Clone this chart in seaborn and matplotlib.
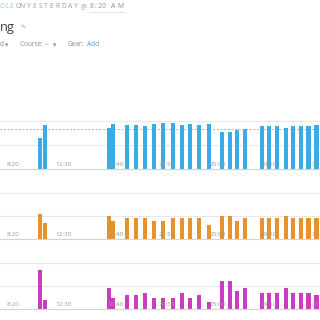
import numpy as np
import pandas as pd
import matplotlib
matplotlib.use("Agg")
import matplotlib.pyplot as plt
from matplotlib.lines import Line2D
import seaborn as sns

# ---------------- data ----------------
lap_time = [633, 655, 968, 990, 1057, 1101, 1144, 1188, 1232, 1280, 1324, 1367, 1411,
            1459, 1522, 1561, 1595, 1634, 1716, 1752, 1789, 1832, 1866, 1905, 1944, 1983]
speed = [12.8, 18.2, 17.2, 18.8, 18.3, 18.3, 17.9, 18.8, 19.0, 19.1, 18.2, 18.9, 18.5,
         18.6, 15.6, 15.4, 16.3, 16.5, 17.8, 18.1, 17.9, 17.2, 17.9, 17.9, 17.9, 18.2]
speed_avg = 16.7
strokes = [11, 7, 10, 8, 9, 9, 9, 8, 8, 9, 9, 9, 9,
           6, 10, 10, 8, 9, 9, 9, 9, 10, 9, 9, 9, 9]
swolf = [17, 4, 9, 5, 6, 6, 7, 5, 5, 5, 7, 5, 6,
         3, 12, 12, 8, 9, 7, 7, 7, 9, 7, 7, 7, 6]
tick_seconds = [500, 750, 1000, 1250, 1500, 1750, 2000]
tick_labels = ["8:20", "12:30", "16:40", "20:50", "25:00", "29:10", "33:20"]

df = pd.DataFrame({"t": lap_time, "speed": speed, "strokes": strokes, "swolf": swolf})

# ---------------- style ----------------
sns.set_theme(style="white")
plt.rcParams["font.family"] = ["Open Sans", "DejaVu Sans"]

W = H = 320
fig = plt.figure(figsize=(3.2, 3.2), dpi=100)
fig.patch.set_facecolor("white")

XLIM = (437, 1987)
BAR_W_S = 20.0


def px_axes(top, bottom):
    return fig.add_axes([0, (H - bottom) / H, 1, (bottom - top) / H])


panels = [
    ("speed", "#3aabe3", 115, 169.0, 2.4),
    ("strokes", "#e8922c", 185, 239.3, 2.33),
    ("swolf", "#c93dbf", 255, 309.3, 2.33),
]

min_gap = np.min(np.diff(np.unique(lap_time)))
for col, color, top, bottom, ppu in panels:
    ax = px_axes(top, bottom)
    hpx = bottom - top
    for g in (10, 20):
        ax.axhline(g, color="#e8e8e8", linewidth=0.8, zorder=0.2)
    if col == "speed":
        ax.axhline(speed_avg, color="#a0a0a0", linewidth=0.6,
                   linestyle=(0, (2.2, 2.2)), zorder=0.3)
    sns.barplot(data=df, x="t", y=col, native_scale=True, color=color,
                saturation=1, errorbar=None, width=BAR_W_S / min_gap,
                linewidth=0, ax=ax, zorder=1)
    ax.grid(False)
    ax.set_xlim(*XLIM)
    ax.set_ylim(0, hpx / ppu)
    ax.set_yticks([])
    ax.set_xticks(tick_seconds)
    ax.tick_params(axis="x", length=0, labelbottom=False)
    ax.tick_params(axis="y", left=False, labelleft=False)
    for xs, lab in zip(tick_seconds, tick_labels):
        ax.text(xs, 4.6 / hpx, lab, transform=ax.get_xaxis_transform(),
                ha="center", va="center", fontsize=4.6, color="#9a9a9a",
                zorder=5, clip_on=False)
    for s in ["left", "right", "top"]:
        ax.spines[s].set_visible(False)
    ax.spines["bottom"].set_color("#d4d4d4")
    ax.spines["bottom"].set_linewidth(0.8)
    ax.set_xlabel("")
    ax.set_ylabel("")
    ax.patch.set_alpha(0)

# ---------------- header text ----------------
renderer = fig.canvas.get_renderer()


def fit_word(x0, x1, y, s, **kw):
    texts, widths = [], []
    for ch in s:
        t = fig.text(0, 1 - y / H, ch, va="center", ha="left", **kw)
        texts.append(t)
        widths.append(t.get_window_extent(renderer).width)
    gap = (x1 - x0 - sum(widths)) / max(len(s) - 1, 1)
    x = x0
    for t, w in zip(texts, widths):
        t.set_x(x / W)
        x += w + gap


hdr = dict(fontsize=4.9)
fit_word(0, 12.7, 6.7, "OLE", color="#95c6e6", **hdr)
fit_word(16, 25, 6.7, "ON", color="#9a9a9a", **hdr)
fit_word(27, 78, 6.7, "YESTERDAY", color="#9a9a9a", **hdr)
fit_word(81, 86, 6.7, "@", color="#9a9a9a", **hdr)
fit_word(89.3, 106, 6.7, "8:20", color="#8c8c8c", **hdr)
fit_word(111, 123.3, 6.7, "AM", color="#8c8c8c", **hdr)
fig.add_artist(Line2D([89 / W, 123.5 / W], [1 - 12.3 / H, 1 - 12.3 / H],
                      color="#b0b0b0", linewidth=0.5, linestyle=(0, (1, 1))))

fig.text(0 / W, 1 - 30.5 / H, "ng", fontsize=9.2, color="#3d3d3d",
         va="baseline", ha="left")
fig.text(20.5 / W, 1 - 28 / H, "\u270e", fontsize=4.5, color="#9a9a9a",
         va="center", ha="left", family=["DejaVu Sans"])

sub = dict(fontsize=4.7, va="center", ha="left")
fig.text(0 / W, 1 - 45 / H, "d", color="#8a8a8a", **sub)
fig.text(5 / W, 1 - 45 / H, "\u25be", color="#8a8a8a", family=["DejaVu Sans"], **sub)
fig.text(20 / W, 1 - 45 / H, "Course: --", color="#8a8a8a", **sub)
fig.text(52.5 / W, 1 - 45 / H, "\u25be", color="#8a8a8a", family=["DejaVu Sans"], **sub)
fig.text(68 / W, 1 - 45 / H, "Gear:", color="#8a8a8a", **sub)
fig.text(87 / W, 1 - 45 / H, "Add", color="#4a9fd8", **sub)

fig.savefig("out.png", dpi=100, facecolor="white")
